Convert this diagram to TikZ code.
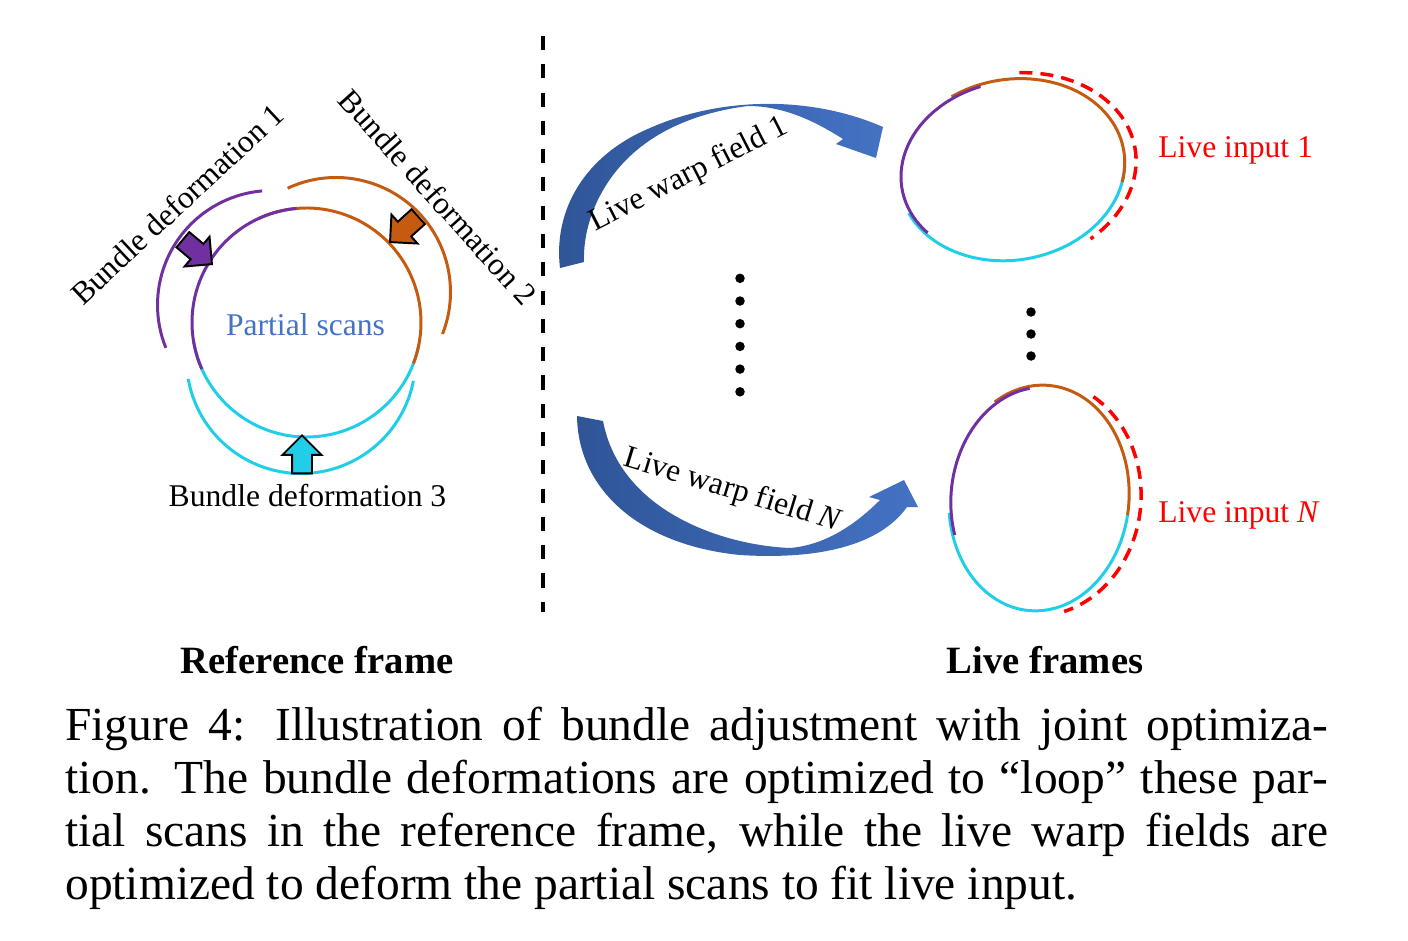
\documentclass[tikz,border=0pt]{standalone}
\usepackage{fontspec}
\setmainfont{Liberation Serif}
\usetikzlibrary{shapes}
\usetikzlibrary{shapes.arrows}
\usetikzlibrary{positioning}
\definecolor{scanp}{RGB}{112,48,160}
\definecolor{scano}{RGB}{197,90,17}
\definecolor{scanc}{RGB}{32,206,232}
\definecolor{warpd}{RGB}{47,85,151}
\definecolor{warpl}{RGB}{68,114,196}
\tikzset{
    arcp/.style = {line width=1.7pt, draw=scanp},
    arco/.style = {line width=1.7pt, draw=scano},
    arcc/.style = {line width=1.7pt, draw=scanc},
    inputd/.style = {line width=2pt, draw=red, dash pattern=on 7.4pt off 4.6pt},
    divider/.style = {line width=2pt, draw=black, dash pattern=on 8pt off 8.1pt},
    bdarrow/.style = {single arrow, draw=black, line width=1.1pt, inner xsep=0pt, inner ysep=0.18cm, minimum height=0.76cm, single arrow head extend=0.19cm, anchor=tip},
    warp/.style = {left color=warpd, right color=warpl, draw=none},
    lbl/.style = {font=\fontsize{18}{21}\selectfont, inner sep=0pt},
    ttl/.style = {font=\fontsize{22}{26}\selectfont\bfseries, inner sep=0pt},
    dotn/.style = {circle, fill=black, inner sep=0pt, minimum size=0.19cm}
}
\begin{document}
\begin{tikzpicture}[x=0.02cm, y=-0.02cm]
\path[use as bounding box] (0,0) rectangle (1408,940);
\coordinate (ref) at (306.5,322.5);
\coordinate (lf1) at (1011.7,169.7);
\coordinate (lfn) at (1039,498);

% reference frame: partial scans and their bundle deformations
\draw[arcc] (ref) ++(-189:114.5) arc[start angle=-189, end angle=-349, radius=114.5];
\draw[arco] (ref) ++(-115:114.5) arc[start angle=-115, end angle=21, radius=114.5];
\draw[arcp] (ref) ++(-95:114.5) arc[start angle=-95, end angle=-204, radius=114.5];
\draw[arcp] (272,305) ++(-95:114.5) arc[start angle=-95, end angle=-202, radius=114.5];
\draw[arco] (336,292) ++(-115:114.5) arc[start angle=-115, end angle=21.5, radius=114.5];
\draw[arcc] (301,359) ++(-190:114.5) arc[start angle=-190, end angle=-349, radius=114.5];
%
\node[bdarrow, fill=scanp, rotate=-40] at (213,265) (bd1) {};
\node[bdarrow, fill=scano, rotate=222] at (389,243) (bd2) {};
\node[bdarrow, fill=scanc, rotate=90] at (302,434) (bd3) {};
%
\node[lbl, text=warpl, anchor=base] at (305.5,335) (ps) {Partial scans};
\node[lbl, rotate=43] at (177,204) (bl1) {Bundle deformation 1};
\node[lbl, rotate=-48] at (438,197) (bl2) {Bundle deformation 2};
\node[lbl, anchor=base] at (307.5,506) (bl3) {Bundle deformation 3};

% divider
\coordinate (divtop) at (543,36);
\coordinate (divbot) at (543,612);
\draw[divider] (divtop) -- (divbot);

% live warp fields
\shade[warp] (560,268) .. controls (553,210) and (585,155) .. (650,128) .. controls (720,97) and (810,95) .. (883,127)
    -- (876,158) -- (836,144) -- (843,139) .. controls (810,118) and (780,106) .. (748,106)
    .. controls (700,112) and (650,130) .. (617,170) .. controls (595,197) and (583,230) .. (584,262) -- cycle;
\shade[warp] (577,416) .. controls (578,490) and (640,545) .. (740,555) .. controls (820,560) and (880,545) .. (907,507)
    -- (918,507) -- (904,480) -- (869,497) -- (880,500)
    .. controls (855,525) and (825,545) .. (790,548) .. controls (720,545) and (620,510) .. (603,421) -- cycle;
\node[lbl, rotate=27] at (689,175) (w1) {Live warp field 1};
\node[lbl, rotate=-17] at (733,491) (wn) {Live warp field \textit{N}};
\foreach \i in {0,...,5}
    \node[dotn] (dl\i) at (740,{278.3+22.7*\i}) {};

% live frames
\begin{scope}[rotate around={10:(lf1)}]
\draw[arcc] (lf1) ++(-196:113.5 and 90.3) arc[start angle=-196, end angle=-354.6, x radius=113.5, y radius=90.3];
\draw[arco] (lf1) ++(-114.3:113.5 and 90.3) arc[start angle=-114.3, end angle=20.3, x radius=113.5, y radius=90.3];
\draw[arcp] (lf1) ++(-98.5:111.5 and 88.3) arc[start angle=-98.5, end angle=-212.6, x radius=111.5, y radius=88.3];
\draw[inputd] (lf1) ++(-78.8:125 and 96) arc[start angle=-78.8, end angle=58.4, x radius=125, y radius=96];
\end{scope}
\begin{scope}[rotate around={-5:(lfn)}]
\draw[arcc] (lfn) ++(-191.6:90 and 113) arc[start angle=-191.6, end angle=-355.7, x radius=90, y radius=113];
\draw[arco] (lfn) ++(-125.7:90 and 113) arc[start angle=-125.7, end angle=4.6, x radius=90, y radius=113];
\draw[arcp] (lfn) ++(-102.4:88 and 111) arc[start angle=-102.4, end angle=-203.5, x radius=88, y radius=111];
\draw[inputd] (lfn) ++(-63.6:102 and 118) arc[start angle=-63.6, end angle=70, x radius=102, y radius=118];
\end{scope}
\foreach \i in {0,1,2}
    \node[dotn] (dr\i) at (1031,{312+22*\i}) {};
\node[lbl, text=red, anchor=base west] at (1158,157) (li1) {Live input 1};
\node[lbl, text=red, anchor=base west] at (1158,522) (lin) {Live input \textit{N}};

% titles and caption
\node[ttl, anchor=base] at (317,673) (tref) {Reference frame};
\node[ttl, anchor=base] at (1045,673) (tlive) {Live frames};
\node[anchor=base west, inner sep=0pt, text width=25.26cm, align=justify, font=\fontsize{27}{30.35}\selectfont] at (65,740) (cap) {%
\makebox[25.26cm][s]{Figure 4: Illustration of bundle adjustment with joint optimiza-}\\
\makebox[25.26cm][s]{tion. The bundle deformations are optimized to ``loop'' these par-}\\
\makebox[25.26cm][s]{tial scans in the reference frame, while the live warp fields are}\\
optimized to deform the partial scans to fit live input.};
\end{tikzpicture}
\end{document}
